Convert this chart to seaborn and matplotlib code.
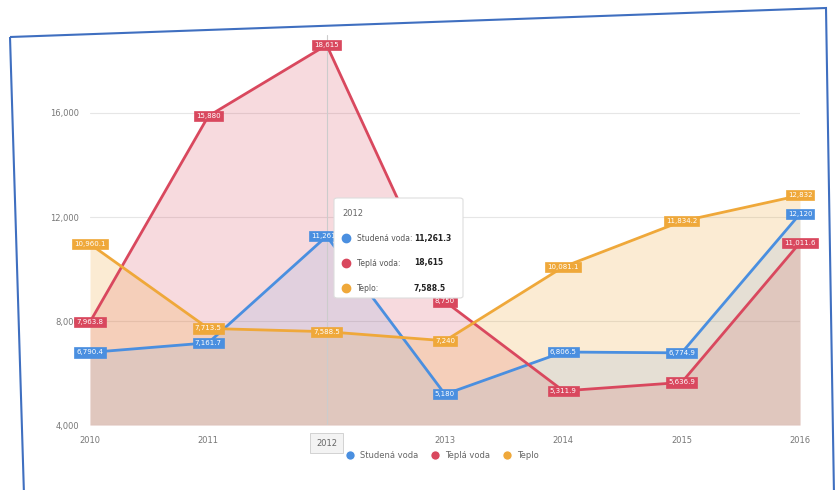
import matplotlib
matplotlib.use("Agg")
import matplotlib.pyplot as plt
import seaborn as sns
import pandas as pd
from matplotlib.patches import FancyBboxPatch, Polygon
from matplotlib.lines import Line2D

years = [2010, 2011, 2012, 2013, 2014, 2015, 2016]
year_labels = ["2010", "2011", "", "2013", "2014", "2015", "2016"]
pointer_label = "2012"
studena = [6790.4, 7161.7, 11261.3, 5180.0, 6806.5, 6774.9, 12120.0]
tepla = [7963.8, 15880.0, 18615.0, 8750.0, 5311.9, 5636.9, 11011.6]
teplo = [10960.1, 7713.5, 7588.5, 7240.0, 10081.1, 11834.2, 12832.0]
series_names = ["Studená voda", "Teplá voda", "Teplo"]
y_ticks = [4000, 8000, 12000, 16000]
y_tick_labels = ["4,000", "8,000", "12,000", "16,000"]
colors = ["#4a8fe0", "#d9485e", "#efa83a"]

sns.set_theme(style="white")
plt.rcParams['font.family'] = ['DejaVu Sans']

fig = plt.figure(figsize=(8.35, 4.9), dpi=100)
ax = fig.add_axes([90/835, 1-425/490, 710/835, 390/490])

df = pd.DataFrame({
    "year": years * 3,
    "value": studena + tepla + teplo,
    "series": [series_names[0]]*7 + [series_names[1]]*7 + [series_names[2]]*7,
})

base = 4000
for vals, c, a in [(tepla, colors[1], 0.2), (teplo, colors[2], 0.22), (studena, colors[0], 0.12)]:
    ax.fill_between(years, vals, base, color=c, alpha=a, lw=0, zorder=1)

sns.lineplot(data=df, x="year", y="value", hue="series", palette=colors,
             hue_order=series_names, linewidth=2.0, legend=False, ax=ax, zorder=3)

ax.set_xlim(2010, 2016)
ax.set_ylim(4000, 19000)
ax.set_yticks(y_ticks)
ax.set_yticklabels(y_tick_labels, fontsize=6, color="#777777")
ax.set_xticks(years)
ax.set_xticklabels(year_labels, fontsize=6, color="#777777")
ax.tick_params(axis="both", length=0, pad=8)
ax.set_xlabel("")
ax.set_ylabel("")
for s in ax.spines.values():
    s.set_visible(False)
ax.yaxis.grid(True, color="#e6e6e6", lw=0.8)
ax.set_axisbelow(True)

ax.axvline(2012, color="#cccccc", lw=0.8, zorder=2)

def fmt(v):
    s = f"{v:,.1f}"
    return s[:-2] if s.endswith(".0") else s

for vals, c in zip([studena, tepla, teplo], colors):
    for x, v in zip(years, vals):
        ax.annotate(fmt(v), (x, v), ha="center", va="center", fontsize=5,
                    color="white", zorder=6,
                    bbox=dict(boxstyle="square,pad=0.3", fc=c, ec=c, lw=0.5))

ax.annotate(pointer_label, (2012, 4000), xytext=(0, -13), textcoords="offset points",
            ha="center", va="center", fontsize=6, color="#666666",
            bbox=dict(boxstyle="square,pad=0.7", fc="#f3f3f3", ec="#cccccc", lw=0.6),
            annotation_clip=False, zorder=7)

W, H = 835, 490
def fx(px): return px / W
def fy(py): return 1 - py / H
tip = FancyBboxPatch((fx(334), fy(298)), fx(463) - fx(334), fy(198) - fy(298),
                     boxstyle="round,pad=0,rounding_size=0.004",
                     transform=fig.transFigure, fc="white", ec="#dddddd", lw=0.8,
                     zorder=10)
fig.patches.append(tip)
fig.text(fx(342), fy(213), "2012", fontsize=6, color="#666666", va="center", zorder=11)
tip_vals = ["11,261.3", "18,615", "7,588.5"]
for i, (name, c, v) in enumerate(zip(series_names, colors, tip_vals)):
    yy = fy(238 + 25 * i)
    fig.lines.append(Line2D([fx(346)], [yy], marker="o", ms=6, color=c,
                            transform=fig.transFigure, zorder=11))
    fig.text(fx(357), yy, name + ":", fontsize=5.5, color="#555555", va="center", zorder=11)
    fig.text(fx(414), yy, v, fontsize=5.5, color="#222222", va="center",
             fontweight="bold", zorder=11)

handles = [Line2D([0], [0], marker="o", color="w", markerfacecolor=c, markersize=7)
           for c in colors]
fig.legend(handles, series_names, loc="center", bbox_to_anchor=(fx(440), fy(455)),
           ncol=3, frameon=False, fontsize=6, handletextpad=0.2, columnspacing=1.0,
           labelcolor="#666666")

frame = Polygon([(fx(10), fy(37)), (fx(826), fy(8)), (fx(834), fy(495)), (fx(24), fy(495))],
                closed=True, fill=False, ec="#3f6fc0", lw=1.5, transform=fig.transFigure,
                zorder=12)
fig.patches.append(frame)

fig.savefig("out.png", dpi=100)
